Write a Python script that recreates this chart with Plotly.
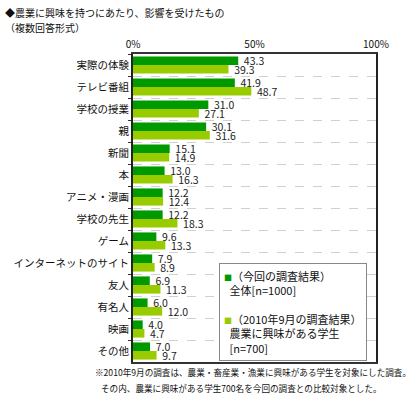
import plotly.graph_objects as go

categories = ["実際の体験", "テレビ番組", "学校の授業", "親", "新聞", "本", "アニメ・漫画",
              "学校の先生", "ゲーム", "インターネットのサイト", "友人", "有名人", "映画", "その他"]
current_values = [43.3, 41.9, 31.0, 30.1, 15.1, 13.0, 12.2, 12.2, 9.6, 7.9, 6.9, 6.0, 4.0, 7.0]
survey2010_values = [39.3, 48.7, 27.1, 31.6, 14.9, 16.3, 12.4, 18.3, 13.3, 8.9, 11.3, 12.0, 4.7, 9.7]
x_ticks = [0, 50, 100]
x_tick_labels = ["0%", "50%", "100%"]

series_names = ["（今回の調査結果）<br>全体[n=1000]",
                "（2010年9月の調査結果）<br>農業に興味がある学生<br>[n=700]"]
DARK = "#009900"
LIGHT = "#99cc00"
FONT = "Noto Sans CJK JP"

W, H = 412, 397
ML, MR, MT, MB = 133, 36, 54, 35
PW = W - ML - MR
PH = H - MT - MB

def px_x(px):
    return (px - ML) / PW

def px_y(py):
    return 1 - (py - MT) / PH

fig = go.Figure()
for vals, color, name in [(current_values, DARK, series_names[0]),
                          (survey2010_values, LIGHT, series_names[1])]:
    fig.add_trace(go.Bar(
        y=categories, x=vals, orientation="h", name=name,
        marker=dict(color=color, line=dict(width=0)),
        texttemplate="\u2005%{x:.1f}", textposition="outside",
        textfont=dict(family=FONT, size=10.5, color="#222"),
        cliponaxis=False, showlegend=False,
    ))

fig.update_layout(
    width=W, height=H,
    margin=dict(l=ML, r=MR, t=MT, b=MB, autoexpand=False),
    paper_bgcolor="white", plot_bgcolor="white",
    barmode="group", bargap=0.22, bargroupgap=0.0,
    uniformtext=dict(minsize=10.5, mode="show"),
    font=dict(family=FONT, size=10, color="#111"),
    xaxis=dict(range=[0, 100], side="top", tickvals=x_ticks, ticktext=x_tick_labels,
               showgrid=False, zeroline=False, ticks="", automargin=False,
               tickfont=dict(family=FONT, size=10, color="#111"),
               showline=True, linecolor="#333", linewidth=2, mirror=True),
    yaxis=dict(autorange="reversed", type="category", tickson="boundaries",
               showgrid=True, gridcolor="#d0d0d0", griddash="dash", gridwidth=1,
               ticks="outside", ticklen=3, tickcolor="#333", automargin=False,
               tickfont=dict(family=FONT, size=10.5, color="#111"),
               showline=True, linecolor="#222", linewidth=2, mirror=True),
)

# Title
fig.add_annotation(xref="paper", yref="paper", x=px_x(3), y=px_y(12),
                   xanchor="left", yanchor="middle", showarrow=False,
                   text="◆農業に興味を持つにあたり、影響を受けたもの",
                   font=dict(family=FONT, size=10, color="#111"))
fig.add_annotation(xref="paper", yref="paper", x=px_x(3), y=px_y(28),
                   xanchor="left", yanchor="middle", showarrow=False,
                   text="（複数回答形式）",
                   font=dict(family=FONT, size=10, color="#111"))

# Footnote
fig.add_annotation(xref="paper", yref="paper", x=px_x(93), y=px_y(372),
                   xanchor="left", yanchor="middle", showarrow=False,
                   text="※2010年9月の調査は、農業・畜産業・漁業に興味がある学生を対象にした調査。",
                   font=dict(family=FONT, size=8.6, color="#111"))
fig.add_annotation(xref="paper", yref="paper", x=px_x(99), y=px_y(388),
                   xanchor="left", yanchor="middle", showarrow=False,
                   text="その内、農業に興味がある学生700名を今回の調査との比較対象とした。",
                   font=dict(family=FONT, size=8.6, color="#111"))

# Legend box
def sq(color):
    return f'<span style="color:{color};font-size:8px">■</span>'

ind = "\u2002"
legend_text = (sq(DARK) + "（今回の調査結果）<br>" + ind + "全体[n=1000]<br> <br>"
               + sq(LIGHT) + "（2010年9月の調査結果）<br>" + ind + "農業に興味がある学生<br>"
               + ind + "[n=700]")
fig.add_annotation(xref="paper", yref="paper", x=px_x(219), y=px_y(263),
                   xanchor="left", yanchor="top", showarrow=False, align="left",
                   text=legend_text, bgcolor="white", bordercolor="#888", borderwidth=1,
                   borderpad=4, font=dict(family=FONT, size=11, color="#111"))

fig.write_html("out.html", config={"displayModeBar": False},
               post_script="document.body.style.margin='0';")
